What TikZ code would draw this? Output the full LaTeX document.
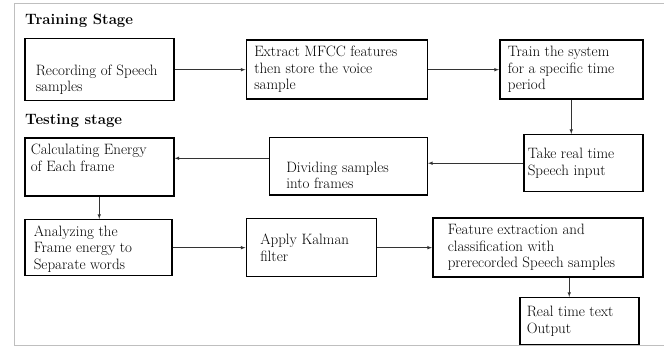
\documentclass[tikz,border=0pt]{standalone}
\usepackage{fontspec}
\usepackage{tikz}
\usetikzlibrary{arrows, positioning}
\tikzstyle{stagebox} = [rectangle, draw=black, line width=1.5pt, inner xsep=4pt, inner ysep=6pt, font=\fontsize{15}{16.5}\selectfont]
\tikzstyle{arrow} = [line width=0.6pt, ->, >=latex, draw=black!80]
\tikzstyle{heading} = [anchor=base west, inner sep=0pt, font=\fontsize{15}{16.5}\selectfont\bfseries]
\newcommand{\boxtext}[5]{\begin{minipage}[c][#2][#3]{#1}\raggedright\leftskip=#4 #5\end{minipage}}

\begin{document}
\begin{tikzpicture}[x=1pt, y=1pt]
    \useasboundingbox (0,0) rectangle (664,-347);
    % Frame
    \draw [black!25, line width=1pt] (664,-4) -- (14,-4) -- (14,-345) -- (664,-345);

    % Headings
    \node (trainhead) [heading] at (25,-25) {Training Stage};
    \node (testhead) [heading] at (25,-125) {Testing stage};

    % Training stage
    \node (rec) [stagebox, anchor=north west] at (24,-38) {\boxtext{141pt}{47pt}{b}{7pt}{Recording of Speech\\samples}};
    \node (mfcc) [stagebox, right=71pt of rec] {\boxtext{173pt}{47pt}{t}{4pt}{Extract MFCC features\\then store the voice\\sample}};
    \node (train) [stagebox, right=71pt of mfcc] {\boxtext{135pt}{47pt}{t}{4pt}{Train the system\\for a specific time\\period}};

    % Testing stage
    \node (take) [stagebox, below=34pt of train.south east, anchor=north east] {\boxtext{111pt}{45pt}{c}{0pt}{Take real time\\Speech input}};
    \node (divide) [stagebox, below=37pt of mfcc.south east, anchor=north east] {\boxtext{150pt}{45pt}{b}{13pt}{Dividing samples\\into frames}};
    \node (calc) [stagebox, below=36pt of rec] {\boxtext{141pt}{46pt}{t}{2pt}{Calculating Energy\\of Each frame}};
    \node (analyze) [stagebox, below=22pt of calc.south west, anchor=north west] {\boxtext{139pt}{44pt}{t}{5pt}{Analyzing the\\Frame energy to\\Separate words}};
    \node (kalman) [stagebox, right=73pt of analyze] {\boxtext{122pt}{46pt}{c}{10pt}{Apply Kalman\\filter}};
    \node (feature) [stagebox, right=55pt of kalman] {\boxtext{202pt}{47pt}{t}{11pt}{Feature extraction and\\classification with\\prerecorded Speech samples}};
    \node (realtime) [stagebox, below=19pt of feature.south east, anchor=north east, xshift=-4pt] {\boxtext{111pt}{35pt}{c}{3pt}{Real time text\\Output}};

    % Connections
    \coordinate (dvout) at ([yshift=8pt]divide.west);
    \coordinate (rtin) at ([xshift=-10pt]realtime.north);
    \draw [arrow] (rec) -- (mfcc);
    \draw [arrow] (mfcc) -- (train);
    \draw [arrow] (train.south) -- (train.south |- take.north);
    \draw [arrow] (take.west) -- (take.west -| divide.east);
    \draw [arrow] (dvout) -- (dvout -| calc.east);
    \draw [arrow] (calc.south) -- (calc.south |- analyze.north);
    \draw [arrow] (analyze) -- (kalman);
    \draw [arrow] (kalman) -- (feature);
    \draw [arrow] (feature.south -| rtin) -- (rtin);
\end{tikzpicture}
\end{document}
